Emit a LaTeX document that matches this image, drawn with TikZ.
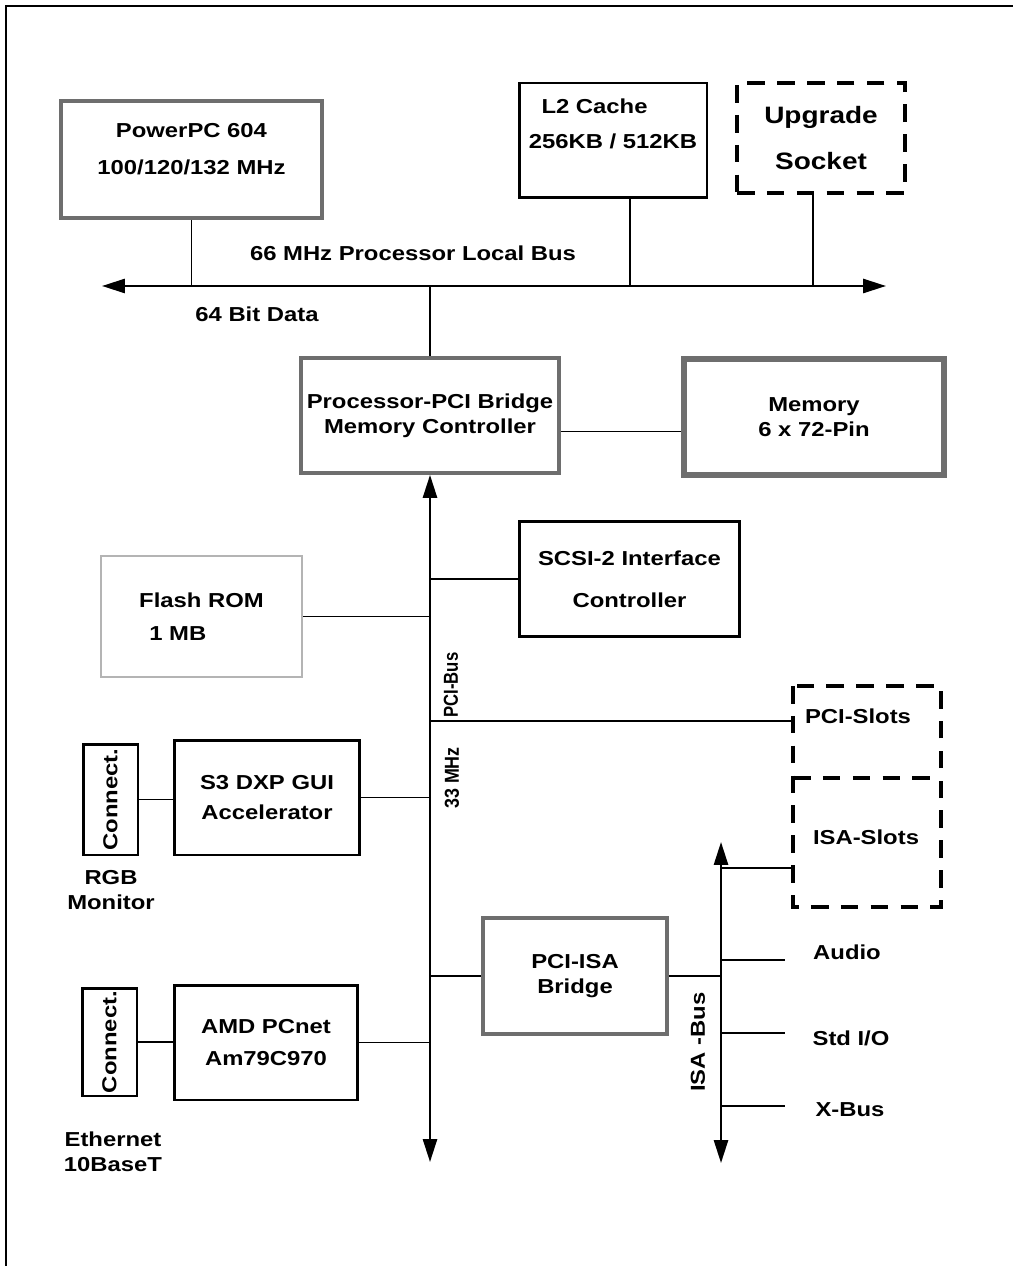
\documentclass[tikz,border=0pt]{standalone}
\usepackage{fontspec}
\setmainfont{Liberation Sans}[FakeStretch=1.18]
\usetikzlibrary{arrows.meta,calc}
\definecolor{halftone}{HTML}{6E6E6E}
\definecolor{lighttone}{HTML}{B4B4B4}

\begin{document}
\begin{tikzpicture}[x=0.02cm,y=-0.02cm,
    every node/.style={font=\bfseries\fontsize{11.5}{14}\selectfont,align=center},
    box/.style={draw,line width=1.7pt,inner sep=0pt},
    greybox/.style={draw=halftone,line width=2.2pt,inner sep=0pt},
    flashbox/.style={draw=lighttone,line width=1.4pt,inner sep=0pt},
    optbox/.style={draw,line width=2.2pt,dash pattern=on 10pt off 7pt,inner sep=0pt},
    optline/.style={line width=2.2pt,dash pattern=on 10pt off 7pt},
    wire/.style={line width=0.6pt},
    bus/.style={line width=1.3pt,{Triangle[length=13pt,width=8pt]}-{Triangle[length=13pt,width=8pt]}}]
    % page size and frame
    \useasboundingbox (0,0) rectangle (1013,1266);
    \draw[line width=1.2pt] (6,1266) -- (6,6) -- (1013,6);

    % processor side
    \node[greybox,minimum width=5.22cm,minimum height=2.34cm,text depth=12pt] (cpu) at (191.5,159.5) {PowerPC 604\\[7.5pt]100/120/132 MHz};
    \node[box,minimum width=3.76cm,minimum height=2.3cm,text depth=19pt] (l2) at (613,140.5) {L2 Cache\hspace*{21pt}\\[6pt]256KB / 512KB};
    \node[optbox,minimum width=3.36cm,minimum height=2.2cm,font=\bfseries\fontsize{13.5}{16}\selectfont] (socket) at (821,138) {Upgrade\\[10pt]Socket};

    % 66 MHz local bus
    \coordinate (busW) at (102,286);
    \coordinate (busE) at (886,286);
    \draw[bus] (busW) -- (busE);
    \node (buslbl) at (413,253) {66 MHz Processor Local Bus};
    \node (datalbl) at (257,314) {64 Bit Data};
    \coordinate (l2tap) at ($(l2.south)+(17,0)$);
    \coordinate (sockettap) at ($(socket.south)+(-8,0)$);
    \draw[wire] (cpu.south) -- (cpu.south |- busW);
    \draw[wire] (l2tap) -- (l2tap |- busW);
    \draw[wire] (sockettap) -- (sockettap |- busW);

    % host bridge + memory
    \node[greybox,minimum width=5.16cm,minimum height=2.3cm] (bridge) at (430,415.5) {Processor-PCI Bridge\\Memory Controller};
    \node[greybox,line width=3pt,minimum width=5.2cm,minimum height=2.32cm] (memory) at (814,417) {Memory\\6 x 72-Pin};
    \draw[wire] (bridge.north) -- (bridge.north |- busW);
    \coordinate (memtap) at ($(bridge.east)+(0,16)$);
    \draw[wire] (memtap) -- (memtap -| memory.west);

    % PCI bus
    \coordinate (pciS) at (430,1162);
    \draw[bus] (bridge.south) -- (pciS);
    \node[rotate=90] (pcilbl) at (451,685) {\scalebox{0.7}[1]{PCI-Bus}};
    \node[rotate=90] (mhzlbl) at (452,778) {\scalebox{0.75}[1]{33 MHz}};

    \node[box,minimum width=4.42cm,minimum height=2.32cm] (scsi) at (629.5,579) {SCSI-2 Interface\\[10pt]Controller};
    \draw[wire] (scsi.west -| pciS) -- (scsi.west);
    \node[flashbox,minimum width=4.02cm,minimum height=2.42cm] (flash) at (201.5,616.5) {Flash ROM\\[4.5pt]1 MB\hspace*{27pt}};
    \draw[wire] (flash.east) -- (flash.east -| pciS);

    % slots
    \node (pcislots) at (858,716) {PCI-Slots};
    \node (isaslots) at (866,837) {ISA-Slots};
    \draw[optline] (793,686) rectangle (941,907);
    \draw[optline] (793,778) -- (941,778);
    \coordinate (slotW1) at (793,721);
    \coordinate (slotW2) at (793,868);
    \draw[wire] (slotW1 -| pciS) -- (slotW1);

    % graphics
    \node[box,minimum width=1.1cm,minimum height=2.22cm] (vgaconn) at (110.5,799.5) {\rotatebox{90}{Connect.}};
    \node[box,minimum width=3.72cm,minimum height=2.3cm] (gui) at (267,797.5) {S3 DXP GUI\\[3.5pt]Accelerator};
    \draw[wire] (vgaconn.east) -- (vgaconn.east -| gui.west);
    \draw[wire] (gui.east) -- (gui.east -| pciS);
    \node (rgb) at (111,890) {RGB\\Monitor};

    % ISA side
    \node[greybox,minimum width=3.68cm,minimum height=2.32cm] (isabridge) at (575,976) {PCI-ISA\\Bridge};
    \coordinate (isaN) at (721,842);
    \coordinate (isaS) at (721,1163);
    \draw[bus] (isaN) -- (isaS);
    \draw[wire] (isabridge.west -| pciS) -- (isabridge.west);
    \draw[wire] (isabridge.east) -- (isabridge.east -| isaN);
    \node[rotate=90] (isalbl) at (698,1042) {ISA -Bus};
    \draw[wire] (slotW2 -| isaN) -- (slotW2);

    \node (audio) at (847,952) {Audio};
    \node (stdio) at (851,1038) {Std I/O};
    \node (xbus) at (850,1110) {X-Bus};
    \coordinate (audioT) at (785,960);
    \coordinate (stdioT) at (785,1033);
    \coordinate (xbusT) at (785,1106);
    \draw[wire] (audioT -| isaN) -- (audioT);
    \draw[wire] (stdioT -| isaN) -- (stdioT);
    \draw[wire] (xbusT -| isaN) -- (xbusT);

    % ethernet
    \node[box,minimum width=1.1cm,minimum height=2.16cm] (lanconn) at (109.5,1042) {\rotatebox{90}{Connect.}};
    \node[box,minimum width=3.68cm,minimum height=2.3cm] (lan) at (266,1042.5) {AMD PCnet\\[4pt]Am79C970};
    \draw[wire] (lanconn.east) -- (lanconn.east -| lan.west);
    \draw[wire] (lan.east) -- (lan.east -| pciS);
    \node (ether) at (113,1152) {Ethernet\\10BaseT};
\end{tikzpicture}
\end{document}
